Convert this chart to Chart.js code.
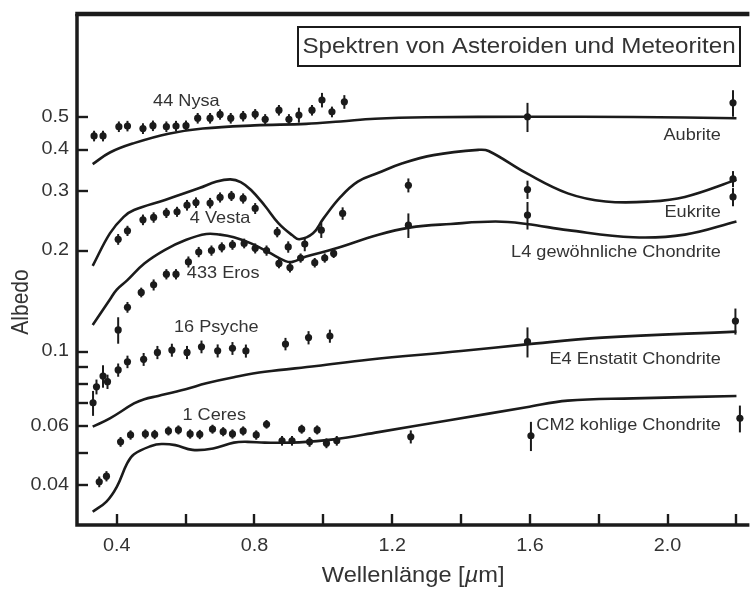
<!DOCTYPE html>
<html>
<head>
<meta charset="utf-8">
<script src="https://cdn.jsdelivr.net/npm/chart.js@4.4.1/dist/chart.umd.min.js"></script>
<style>
  html, body { margin: 0; padding: 0; background: #fff; }
  canvas { display: block; }
</style>
</head>
<body>
<canvas id="c" width="753" height="590"></canvas>
<script>
// ---- Meteorite reflectance spectra (lines) ----
const aubriteX = [0.33, 0.38, 0.45, 0.55, 0.65, 0.80, 0.95, 1.05, 1.15, 1.30, 1.60, 1.90, 2.20];
const aubriteY = [0.362, 0.392, 0.418, 0.446, 0.462, 0.472, 0.477, 0.485, 0.494, 0.499, 0.501, 0.500, 0.496];

const eukriteX = [0.33, 0.38, 0.42, 0.45, 0.54, 0.64, 0.69, 0.73, 0.76, 0.79, 0.83, 0.87, 0.91, 0.93, 0.97, 1.00, 1.05, 1.10, 1.16, 1.23, 1.32, 1.45, 1.48, 1.59, 1.71, 1.82, 1.95, 2.05, 2.20];
const eukriteY = [0.180, 0.225, 0.252, 0.264, 0.283, 0.307, 0.321, 0.326, 0.320, 0.303, 0.272, 0.241, 0.222, 0.216, 0.225, 0.249, 0.289, 0.321, 0.341, 0.364, 0.385, 0.399, 0.396, 0.340, 0.296, 0.280, 0.280, 0.289, 0.325];

const l4X = [0.33, 0.38, 0.40, 0.43, 0.48, 0.54, 0.60, 0.66, 0.70, 0.74, 0.79, 0.84, 0.89, 0.91, 0.95, 1.03, 1.16, 1.25, 1.37, 1.50, 1.59, 1.71, 1.90, 2.05, 2.20];
const l4Y = [0.120, 0.143, 0.153, 0.163, 0.183, 0.201, 0.215, 0.224, 0.223, 0.219, 0.210, 0.198, 0.186, 0.185, 0.192, 0.202, 0.223, 0.234, 0.240, 0.244, 0.240, 0.230, 0.219, 0.223, 0.244];

const e4X = [0.33, 0.38, 0.45, 0.48, 0.52, 0.60, 0.66, 0.74, 0.83, 0.98, 1.13, 1.40, 1.59, 1.81, 2.20];
const e4Y = [0.0597, 0.0632, 0.0700, 0.0721, 0.0737, 0.0772, 0.0804, 0.0838, 0.0870, 0.0905, 0.0945, 0.1003, 0.1050, 0.1100, 0.1146];

const cm2X = [0.33, 0.37, 0.40, 0.43, 0.45, 0.50, 0.53, 0.57, 0.62, 0.68, 0.74, 0.78, 0.83, 0.93, 1.03, 1.16, 1.37, 1.59, 1.71, 1.90, 2.20];
const cm2Y = [0.0333, 0.0357, 0.0395, 0.0464, 0.0494, 0.0523, 0.0530, 0.0526, 0.0509, 0.0514, 0.0535, 0.0538, 0.0535, 0.0536, 0.0547, 0.0575, 0.0625, 0.0682, 0.0714, 0.0725, 0.0737];

// ---- Asteroid observations (points with error bars) ----
const nysaX = [0.334, 0.360, 0.406, 0.431, 0.476, 0.505, 0.544, 0.572, 0.601, 0.635, 0.671, 0.700, 0.731, 0.767, 0.802, 0.831, 0.871, 0.900, 0.929, 0.967, 0.996, 1.025, 1.061, 1.593, 2.19];
const nysaY = [0.439, 0.439, 0.468, 0.470, 0.462, 0.471, 0.468, 0.470, 0.471, 0.496, 0.496, 0.509, 0.496, 0.503, 0.510, 0.492, 0.524, 0.492, 0.507, 0.524, 0.562, 0.518, 0.555, 0.501, 0.551];
const nysaErr = [0.016, 0.016, 0.017, 0.017, 0.017, 0.017, 0.017, 0.017, 0.017, 0.018, 0.018, 0.018, 0.018, 0.018, 0.018, 0.018, 0.019, 0.018, 0.026, 0.019, 0.028, 0.019, 0.026, 0.05, 0.05];

const vestaX = [0.404, 0.431, 0.476, 0.507, 0.544, 0.575, 0.604, 0.630, 0.671, 0.700, 0.733, 0.767, 0.802, 0.866, 0.898, 0.946, 0.994, 1.056, 1.247, 1.593, 2.19];
const vestaY = [0.216, 0.229, 0.247, 0.251, 0.259, 0.261, 0.273, 0.278, 0.277, 0.288, 0.291, 0.286, 0.267, 0.227, 0.205, 0.209, 0.230, 0.258, 0.313, 0.304, 0.327];
const vestaErr = [0.008, 0.008, 0.009, 0.009, 0.009, 0.009, 0.010, 0.010, 0.010, 0.010, 0.010, 0.010, 0.010, 0.008, 0.008, 0.010, 0.012, 0.011, 0.015, 0.019, 0.018];

const erosX = [0.404, 0.431, 0.471, 0.507, 0.544, 0.572, 0.608, 0.638, 0.675, 0.705, 0.736, 0.770, 0.802, 0.835, 0.871, 0.903, 0.934, 0.975, 1.004, 1.030, 1.247, 1.593, 2.19];
const erosY = [0.116, 0.1355, 0.150, 0.158, 0.170, 0.170, 0.185, 0.198, 0.200, 0.2045, 0.208, 0.210, 0.203, 0.200, 0.183, 0.178, 0.190, 0.184, 0.190, 0.196, 0.238, 0.255, 0.289];
const erosErr = [0.0105, 0.005, 0.005, 0.006, 0.006, 0.006, 0.007, 0.007, 0.007, 0.007, 0.007, 0.007, 0.007, 0.007, 0.006, 0.006, 0.006, 0.006, 0.006, 0.006, 0.020, 0.024, 0.018];

const psycheX = [0.331, 0.341, 0.360, 0.373, 0.404, 0.431, 0.478, 0.518, 0.560, 0.604, 0.646, 0.693, 0.736, 0.775, 0.890, 0.957, 1.019, 1.593, 2.197];
const psycheY = [0.0703, 0.0785, 0.0845, 0.0813, 0.0881, 0.0932, 0.0948, 0.0994, 0.101, 0.0994, 0.1033, 0.1005, 0.1022, 0.1004, 0.1053, 0.110, 0.1112, 0.107, 0.1233];
const psycheErr = [0.006, 0.004, 0.0065, 0.004, 0.004, 0.004, 0.0042, 0.0045, 0.0045, 0.0045, 0.0045, 0.0045, 0.0045, 0.0045, 0.0045, 0.005, 0.005, 0.011, 0.011];

const ceresX = [0.349, 0.370, 0.411, 0.440, 0.483, 0.510, 0.550, 0.579, 0.613, 0.641, 0.678, 0.709, 0.736, 0.767, 0.805, 0.835, 0.880, 0.909, 0.937, 0.960, 0.982, 1.009, 1.039, 1.254, 1.603, 2.21];
const ceresY = [0.0409, 0.0425, 0.0538, 0.0564, 0.0568, 0.0566, 0.0580, 0.0584, 0.0568, 0.0566, 0.0587, 0.0577, 0.0568, 0.0580, 0.0564, 0.0607, 0.0542, 0.0542, 0.0587, 0.0538, 0.0584, 0.0533, 0.0542, 0.0557, 0.0561, 0.0632];
const ceresErr = [0.0015, 0.0015, 0.0018, 0.0018, 0.0018, 0.0018, 0.0018, 0.0018, 0.0018, 0.0018, 0.0018, 0.0018, 0.0018, 0.0018, 0.0018, 0.0018, 0.0018, 0.0018, 0.0018, 0.0018, 0.0018, 0.0018, 0.0018, 0.0025, 0.0056, 0.0058];

// ---- Axes ----
const X_MIN = 0.2844, X_MAX = 2.2376;
const Y_MIN = 0.0304, Y_MAX = 1.014;
const xTickValues = [0.4, 0.6, 0.8, 1.0, 1.2, 1.4, 1.6, 1.8, 2.0, 2.2];
const xTickLabels = ['0.4', '', '0.8', '', '1.2', '', '1.6', '', '2.0', ''];
const yTickValues = [0.04, 0.05, 0.06, 0.07, 0.08, 0.09, 0.1, 0.2, 0.3, 0.4, 0.5];
const yTickLabels = ['0.04', '', '0.06', '', '', '', '0.1', '0.2', '0.3', '0.4', '0.5'];

// Series captions anchored in data coordinates [text, x (µm), albedo, align]
const captions = [
  ['44 Nysa', 0.602, 0.558, 'center'],
  ['4 Vesta', 0.700, 0.250, 'center'],
  ['433 Eros', 0.709, 0.171, 'center'],
  ['16 Psyche', 0.689, 0.1176, 'center'],
  ['1 Ceres', 0.683, 0.0646, 'center'],
  ['Aubrite', 2.155, 0.442, 'right'],
  ['Eukrite', 2.155, 0.2604, 'right'],
  ['L4 gewöhnliche Chondrite', 2.155, 0.1967, 'right'],
  ['E4 Enstatit Chondrite', 2.155, 0.0944, 'right'],
  ['CM2 kohlige Chondrite', 2.155, 0.0603, 'right']
];
const chartTitle = 'Spektren von Asteroiden und Meteoriten';

const INK = '#1b1b1b';
const TEXT = '#333333';
const FONT = '"Liberation Sans", Arial, Helvetica, sans-serif';
const SX = 1.1; // horizontal widening of the lettering

function pts(xs, ys) { return xs.map((x, i) => ({ x: x, y: ys[i] })); }

function lineSet(label, xs, ys) {
  return {
    type: 'line', label: label, data: pts(xs, ys),
    borderColor: INK, borderWidth: 2.6, pointRadius: 0, fill: false,
    tension: 0.4
  };
}
function pointSet(label, xs, ys, err) {
  return {
    type: 'scatter', label: label, data: pts(xs, ys), err: err,
    backgroundColor: INK, borderColor: INK, borderWidth: 0,
    pointRadius: 3.6, pointHoverRadius: 3.6, showLine: false
  };
}

function drawText(ctx, str, x, y, size, align, rot) {
  ctx.save();
  ctx.translate(x, y);
  ctx.scale(SX, 1);
  if (rot) ctx.rotate(rot);
  ctx.font = size + 'px ' + FONT;
  ctx.fillStyle = TEXT;
  ctx.textAlign = align;
  ctx.textBaseline = 'middle';
  ctx.fillText(str, 0, 0);
  ctx.restore();
}

const decor = {
  id: 'decor',
  afterDatasetsDraw(chart) {
    const ctx = chart.ctx;
    const xs = chart.scales.x, ys = chart.scales.y;
    ctx.save();
    ctx.strokeStyle = INK;
    ctx.lineWidth = 2;
    chart.data.datasets.forEach(ds => {
      if (!ds.err) return;
      ds.data.forEach((p, j) => {
        const px = xs.getPixelForValue(p.x);
        ctx.beginPath();
        ctx.moveTo(px, ys.getPixelForValue(p.y - ds.err[j]));
        ctx.lineTo(px, ys.getPixelForValue(p.y + ds.err[j]));
        ctx.stroke();
      });
    });
    ctx.restore();
  },
  afterDraw(chart) {
    const ctx = chart.ctx;
    const a = chart.chartArea;
    const xs = chart.scales.x, ys = chart.scales.y;
    ctx.save();
    ctx.strokeStyle = INK;
    ctx.lineCap = 'butt';

    // frame: top, left, bottom
    ctx.lineWidth = 4.5;
    ctx.beginPath(); ctx.moveTo(a.left - 1.75, a.top); ctx.lineTo(a.right, a.top); ctx.stroke();
    ctx.lineWidth = 3.5;
    ctx.lineJoin = 'miter';
    ctx.beginPath();
    ctx.moveTo(a.left, a.top);
    ctx.lineTo(a.left, a.bottom);
    ctx.lineTo(a.right, a.bottom);
    ctx.stroke();

    // inward tick marks
    ctx.lineWidth = 2.4;
    xTickValues.forEach(v => {
      const px = Math.round(xs.getPixelForValue(v));
      ctx.beginPath(); ctx.moveTo(px, a.bottom); ctx.lineTo(px, a.bottom - 11); ctx.stroke();
    });
    yTickValues.forEach(v => {
      const py = Math.round(ys.getPixelForValue(v));
      ctx.beginPath(); ctx.moveTo(a.left, py); ctx.lineTo(a.left + 11, py); ctx.stroke();
    });
    ctx.restore();

    // tick labels
    xTickValues.forEach((v, i) => {
      if (xTickLabels[i]) drawText(ctx, xTickLabels[i], xs.getPixelForValue(v), a.bottom + 21, 18, 'center');
    });
    yTickValues.forEach((v, i) => {
      if (yTickLabels[i]) drawText(ctx, yTickLabels[i], a.left - 8, ys.getPixelForValue(v), 18, 'right');
    });

    // axis titles
    drawText(ctx, 'Albedo', 22, 302, 21, 'center', -Math.PI / 2);
    {
      const size = 21.5;
      ctx.save();
      ctx.font = size + 'px ' + FONT;
      const p1 = 'Wellenlänge [', p3 = 'm]';
      const w1 = ctx.measureText(p1).width;
      const w3 = ctx.measureText(p3).width;
      ctx.font = 'italic ' + size + 'px ' + FONT;
      const w2 = ctx.measureText('\u00b5').width;
      ctx.restore();
      const total = (w1 + w2 + w3) * SX;
      const cx = (a.left + a.right) / 2;
      const x0 = cx - total / 2;
      const y0 = 576;
      drawText(ctx, p1, x0, y0, size, 'left');
      ctx.save();
      ctx.translate(x0 + w1 * SX, y0);
      ctx.scale(SX, 1);
      ctx.font = 'italic ' + size + 'px ' + FONT;
      ctx.fillStyle = TEXT; ctx.textAlign = 'left'; ctx.textBaseline = 'middle';
      ctx.fillText('\u00b5', 0, 0);
      ctx.restore();
      drawText(ctx, p3, x0 + (w1 + w2) * SX, y0, size, 'left');
    }

    // series captions
    captions.forEach(c => {
      drawText(ctx, c[0], xs.getPixelForValue(c[1]), ys.getPixelForValue(c[2]), 16.5, c[3]);
    });

    // boxed title
    ctx.save();
    ctx.strokeStyle = INK;
    ctx.lineWidth = 2;
    ctx.strokeRect(298, 27, 442, 39);
    ctx.restore();
    drawText(ctx, chartTitle, 519, 47, 22, 'center');
  }
};

new Chart(document.getElementById('c'), {
  data: {
    datasets: [
      lineSet('Aubrite', aubriteX, aubriteY),
      lineSet('Eukrite', eukriteX, eukriteY),
      lineSet('L4 gewöhnliche Chondrite', l4X, l4Y),
      lineSet('E4 Enstatit Chondrite', e4X, e4Y),
      lineSet('CM2 kohlige Chondrite', cm2X, cm2Y),
      pointSet('44 Nysa', nysaX, nysaY, nysaErr),
      pointSet('4 Vesta', vestaX, vestaY, vestaErr),
      pointSet('433 Eros', erosX, erosY, erosErr),
      pointSet('16 Psyche', psycheX, psycheY, psycheErr),
      pointSet('1 Ceres', ceresX, ceresY, ceresErr)
    ]
  },
  options: {
    responsive: false,
    devicePixelRatio: 1,
    animation: false,
    layout: { padding: { top: 14, right: 0, bottom: 0, left: 0 } },
    plugins: { legend: { display: false }, tooltip: { enabled: false } },
    scales: {
      x: {
        type: 'linear', min: X_MIN, max: X_MAX,
        grid: { display: false, drawTicks: false },
        border: { display: false },
        ticks: { display: false },
        afterFit(s) { s.height = 65; }
      },
      y: {
        type: 'logarithmic', min: Y_MIN, max: Y_MAX,
        grid: { display: false, drawTicks: false },
        border: { display: false },
        ticks: { display: false },
        afterFit(s) { s.width = 77; }
      }
    }
  },
  plugins: [decor]
});
</script>
</body>
</html>
